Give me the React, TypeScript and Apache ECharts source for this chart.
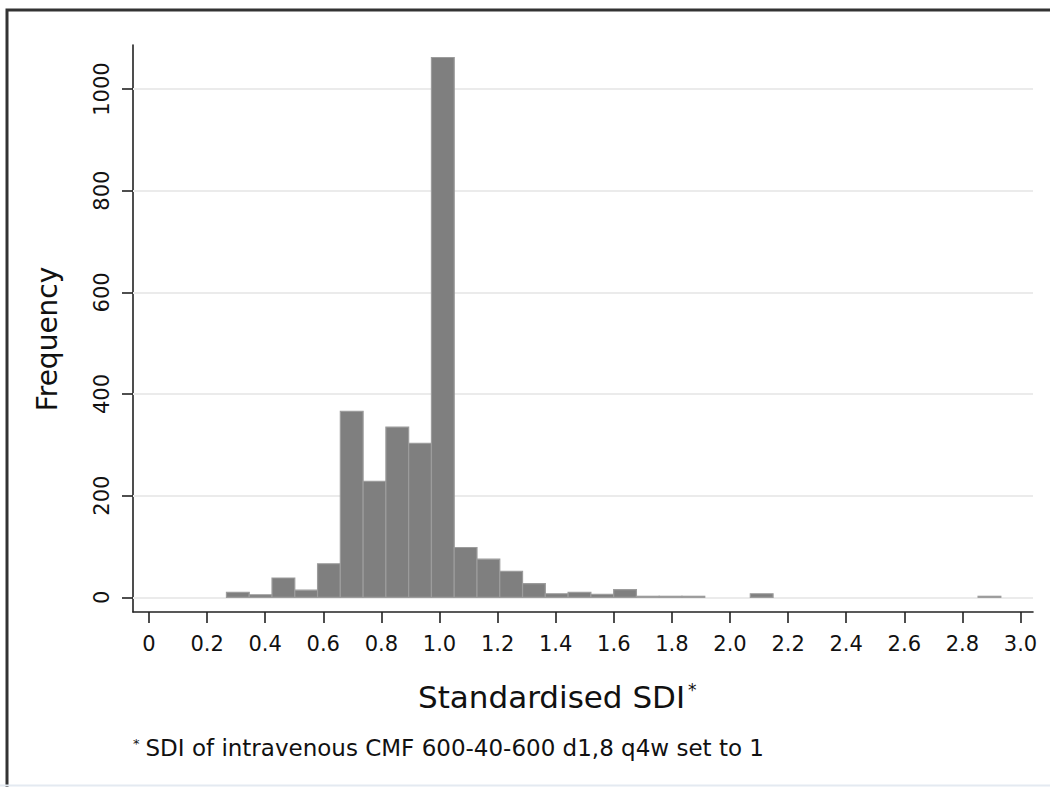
import React, { useEffect, useRef } from "react";
import * as echarts from "echarts";

// Histogram definition (Stata-style bins)
const binStart = 0.2667;
const binWidth = 0.0784;
const binCounts = [
  10, 5, 38, 14, 66, 366, 228, 335, 303, 1062, 98, 75, 51, 27, 7, 10, 6, 15,
  2, 2, 2, 0, 0, 7, 0, 0, 0, 0, 0, 0, 0, 0, 0, 2,
];

const xTicks = [0, 0.2, 0.4, 0.6, 0.8, 1.0, 1.2, 1.4, 1.6, 1.8, 2.0, 2.2, 2.4, 2.6, 2.8, 3.0];
const yTicks = [0, 200, 400, 600, 800, 1000];

const xTitle = "Standardised SDI";
const yTitle = "Frequency";
const footnote = "SDI of intravenous CMF 600-40-600 d1,8 q4w set to 1";

const FONT = "'DejaVu Sans', Verdana, sans-serif";

export default function App() {
  const ref = useRef<HTMLDivElement>(null);

  useEffect(() => {
    document.body.style.margin = "0";
    const chart = echarts.init(ref.current!, null, { renderer: "svg" });

    const data = binCounts
      .map((c, i) => [binStart + i * binWidth, binStart + (i + 1) * binWidth, c])
      .filter((d) => d[2] > 0);

    chart.setOption({
      animation: false,
      backgroundColor: "#ffffff",
      grid: { left: 133, right: 17, top: 45, bottom: 175 },
      xAxis: {
        type: "value",
        min: -0.055,
        max: 3.043,
        axisLine: { show: true, onZero: false, lineStyle: { color: "#222", width: 1.6 } },
        axisTick: { show: true, length: 11, customValues: xTicks, lineStyle: { color: "#222", width: 1.6 } },
        axisLabel: {
          customValues: xTicks,
          margin: 21,
          fontFamily: FONT,
          fontSize: 21,
          color: "#111",
          formatter: (v: number) => (v === 0 ? "0" : v.toFixed(1)),
        },
        splitLine: { show: false },
      },
      yAxis: {
        type: "value",
        min: -28.9,
        max: 1086.6,
        axisLine: { show: true, onZero: false, lineStyle: { color: "#222", width: 1.6 } },
        axisTick: { show: true, length: 11, customValues: yTicks, lineStyle: { color: "#222", width: 1.6 } },
        axisLabel: {
          customValues: yTicks,
          rotate: 90,
          margin: 21,
          fontFamily: FONT,
          fontSize: 21,
          color: "#111",
          formatter: (v: number) => String(v),
        },
        splitLine: { show: false },
      },
      graphic: [
        {
          type: "rect",
          shape: { x: 7, y: 10, width: 1200, height: 900 },
          style: { fill: "none", stroke: "#333", lineWidth: 3 },
          silent: true,
          z: 100,
        },
        {
          type: "line",
          shape: { x1: 0, y1: 785.5, x2: 1050, y2: 785.5 },
          style: { stroke: "#e4eaf1", lineWidth: 2 },
          silent: true,
          z: 101,
        },
        {
          type: "text",
          x: 47,
          y: 339,
          rotation: Math.PI / 2,
          style: {
            text: yTitle,
            fontFamily: FONT,
            fontSize: 28,
            fill: "#111",
            align: "center",
            verticalAlign: "middle",
          },
        },
        {
          type: "text",
          x: 418,
          y: 697,
          style: {
            text: "{n|" + xTitle + "}{sup|*}",
            fontFamily: FONT,
            fontSize: 31,
            fill: "#111",
            align: "left",
            verticalAlign: "middle",
            rich: {
              n: { fontSize: 31, fontFamily: FONT, fill: "#111" },
              sup: { fontSize: 17, fontFamily: FONT, fill: "#111", verticalAlign: "top", padding: [0, 0, 11, 3] },
            },
          },
        },
        {
          type: "text",
          x: 133,
          y: 748,
          style: {
            text: "{sup|*}{n|" + footnote + "}",
            fontFamily: FONT,
            fontSize: 23,
            fill: "#111",
            align: "left",
            verticalAlign: "middle",
            rich: {
              sup: { fontSize: 13, fontFamily: FONT, fill: "#111", verticalAlign: "top", padding: [0, 6, 8, 0] },
              n: { fontSize: 23, fontFamily: FONT, fill: "#111" },
            },
          },
        },
      ],
      series: [
        {
          type: "line",
          data: [],
          silent: true,
          z: 1,
          markLine: {
            silent: true,
            symbol: ["none", "none"],
            label: { show: false },
            lineStyle: { color: "#ebebeb", width: 2, type: "solid" },
            data: yTicks.map((v) => ({ yAxis: v })),
          },
        },
        {
          type: "custom",
          z: 5,
          data,
          encode: { x: [0, 1], y: 2 },
          renderItem: (params: any, api: any) => {
            const x0 = api.value(0);
            const x1 = api.value(1);
            const c = api.value(2);
            const p0 = api.coord([x0, c]);
            const p1 = api.coord([x1, 0]);
            return {
              type: "rect",
              shape: { x: p0[0], y: p0[1], width: p1[0] - p0[0], height: p1[1] - p0[1] },
              style: { fill: "#7f7f7f", stroke: "#9c9c9c", lineWidth: 1.2 },
            };
          },
        },
      ],
    });

    return () => chart.dispose();
  }, []);

  return (
    <div
      ref={ref}
      style={{ position: "fixed", left: 0, top: 0, width: 1050, height: 787 }}
    />
  );
}
